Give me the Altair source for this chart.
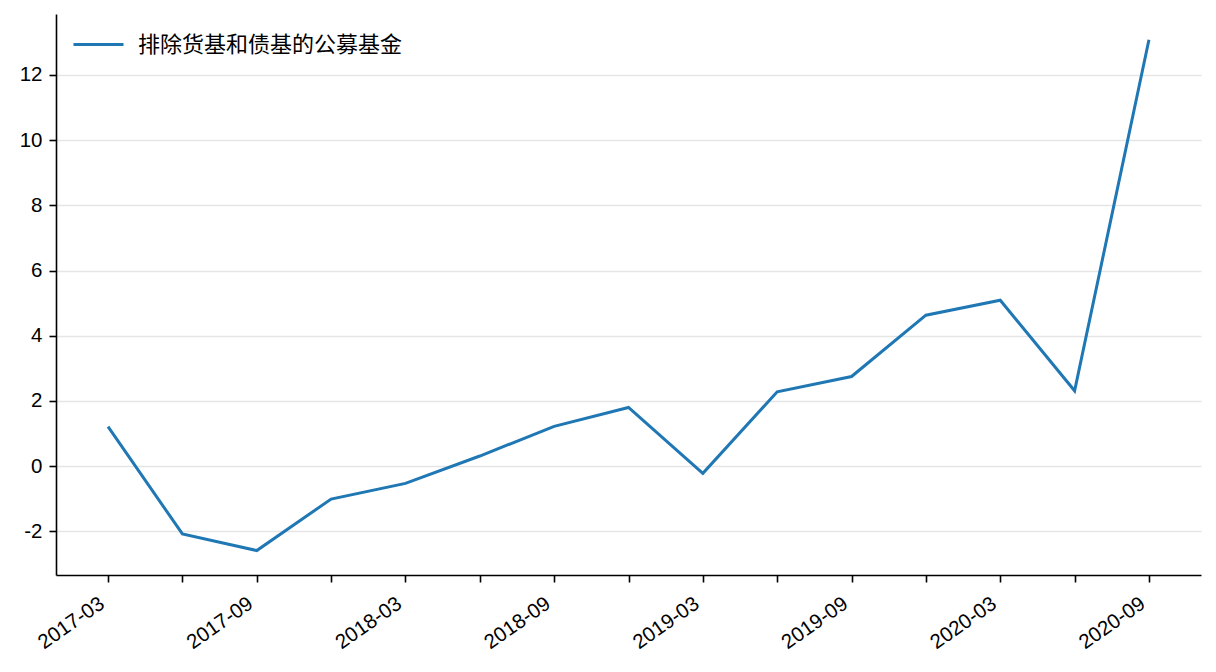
import altair as alt
import pandas as pd

dates = ["2017-03", "2017-06", "2017-09", "2017-12", "2018-03", "2018-06", "2018-09", "2018-12",
         "2019-03", "2019-06", "2019-09", "2019-12", "2020-03", "2020-06", "2020-09"]
values = [1.21, -2.08, -2.59, -1.01, -0.53, 0.31, 1.22, 1.80,
          -0.22, 2.28, 2.75, 4.63, 5.09, 2.31, 13.08]
series_name = "排除货基和债基的公募基金"

df = pd.DataFrame({"date": dates, "value": values, "series": series_name})

FONT = "Liberation Sans, Arial, Noto Sans CJK SC"

chart = alt.Chart(df).mark_line(strokeWidth=3).encode(
    x=alt.X("date:O", sort=dates,
            scale=alt.Scale(type="point", padding=0.7),
            axis=alt.Axis(title=None, grid=False, labelAngle=325, labelAlign="right",
                          labelBaseline="top", labelFontSize=20.5, labelColor="black",
                          tickColor="black", domainColor="black", tickSize=7, tickWidth=1.6,
                          labelPadding=11, labelOffset=-12,
                          labelExpr="(slice(datum.value, 5) == '03' || slice(datum.value, 5) == '09') ? datum.value : ''")),
    y=alt.Y("value:Q", scale=alt.Scale(domain=[-3.34, 13.87], nice=False, zero=False),
            axis=alt.Axis(title=None, values=[-2, 0, 2, 4, 6, 8, 10, 12], grid=True,
                          gridColor="#e5e5e5", gridWidth=1.4, labelFontSize=20.5, labelColor="black",
                          tickColor="black", domainColor="black", tickSize=7, tickWidth=1.6,
                          labelPadding=7, labelExpr="toString(datum.value)")),
    color=alt.Color("series:N", scale=alt.Scale(range=["#1f77b4"]),
                    legend=alt.Legend(title=None, orient="none", legendX=16, legendY=4,
                                      symbolType="stroke", symbolStrokeWidth=3, symbolSize=2500,
                                      labelFontSize=22, labelColor="black", labelFont=FONT,
                                      labelOffset=13, labelLimit=0)),
).properties(
    width=1145, height=561, padding={"left": 11, "top": 6, "right": 5, "bottom": 5}
).configure(font=FONT).configure_view(stroke=None, strokeWidth=0).configure_axis(
    domainWidth=1.6, labelFont=FONT)

chart.save("out.html", embed_options={"renderer": "svg", "actions": False})
